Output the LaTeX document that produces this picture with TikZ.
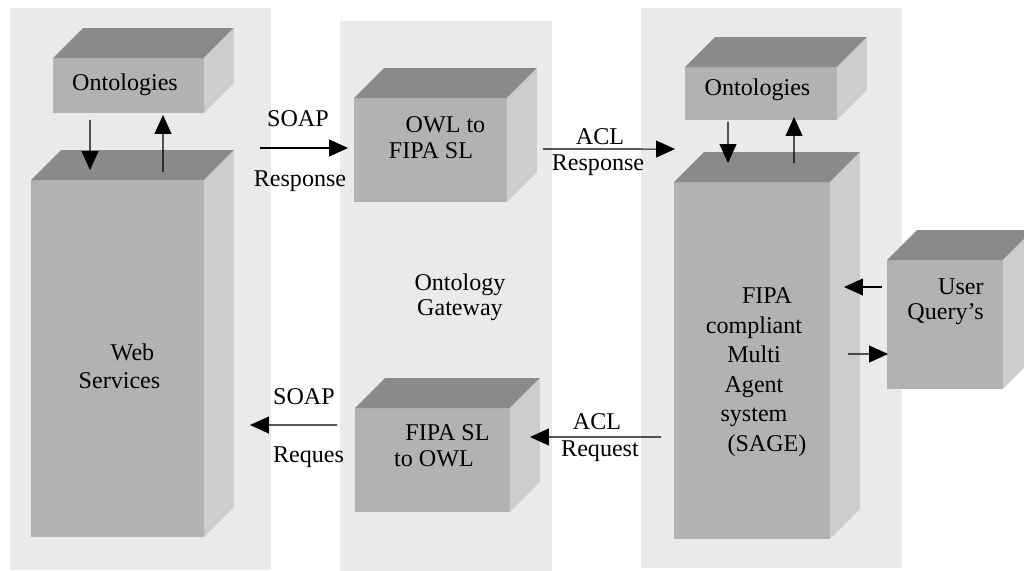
\documentclass[tikz,border=0pt]{standalone}
\usepackage{fontspec}
\setmainfont{Liberation Serif}
\usetikzlibrary{arrows.meta,calc}

\definecolor{panelgray}{RGB}{234,234,234}
\definecolor{frontgray}{RGB}{178,178,178}
\definecolor{topgray}{RGB}{138,138,138}
\definecolor{sidegray}{RGB}{205,205,205}

\begin{document}
\begin{tikzpicture}[x=0.02cm, y=-0.02cm,
	panel/.style={fill=panelgray},
	block/.style={rectangle, fill=frontgray, inner sep=0pt, outer sep=0pt},
	lbl/.style={font=\fontsize{13.7}{14.8}\selectfont, align=center, inner sep=0pt},
	arr/.style={-{Triangle[length=0.38cm, width=0.34cm]}, line width=0.6pt}]
	\useasboundingbox (0,0) rectangle (1024,571);
	\clip (0,0) rectangle (1024,571);

	% grey columns
	\fill[panel] (10,8) rectangle (271,570);
	\fill[panel] (340,21) rectangle (552,571);
	\fill[panel] (641,8) rectangle (902,568);

	% boxes (front faces)
	\node[block, minimum width=3.02cm, minimum height=1.10cm] (ontoL) at (128.5,85.5) {};
	\node[block, minimum width=3.46cm, minimum height=7.14cm] (web) at (117.5,358.5) {};
	\node[block, minimum width=3.06cm, minimum height=2.08cm] (owl2sl) at (430.5,150) {};
	\node[block, minimum width=3.10cm, minimum height=2.08cm] (sl2owl) at (432.5,460) {};
	\node[block, minimum width=3.04cm, minimum height=1.06cm] (ontoR) at (761,93.5) {};
	\node[block, minimum width=3.12cm, minimum height=7.14cm] (fipa) at (752,360.5) {};
	\node[block, minimum width=2.32cm, minimum height=2.58cm] (user) at (945,324.5) {};

	% top and side faces
	\foreach \b in {ontoL,web,owl2sl,sl2owl,ontoR,fipa,user} {
		\fill[topgray] (\b.north west) -- ++(30,-30) -- ($(\b.north east)+(30,-30)$) -- (\b.north east) -- cycle;
		\fill[sidegray] (\b.north east) -- ++(30,-30) -- ($(\b.south east)+(30,-30)$) -- (\b.south east) -- cycle;
	}

	% box texts
	\node[lbl] (ontoLtxt) at (125,85) {Ontologies};
	\node[lbl, font=\fontsize{13.7}{16}\selectfont] (webtxt) at (125.5,366) {\hspace*{0.28cm}Web\\\hspace*{-0.24cm}Services};
	\node[lbl] (owl2sltxt) at (438,138) {\hspace*{0.3cm}OWL to\\\hspace*{-0.28cm}FIPA SL};
	\node[lbl] (sl2owltxt) at (441,446) {\hspace*{0.26cm}FIPA SL\\\hspace*{-0.28cm}to OWL};
	\node[lbl, font=\fontsize{13.7}{14.2}\selectfont] (gatetxt) at (460,297) {Ontology\\Gateway};
	\node[lbl] (ontoRtxt) at (757.5,90) {Ontologies};
	\node[lbl, font=\fontsize{13.7}{16.8}\selectfont] (fipatxt) at (754,372)
		{\hspace*{0.52cm}FIPA\\compliant\\Multi\\Agent\\system\\\hspace*{0.52cm}(SAGE)};
	\node[lbl, font=\fontsize{13.7}{14.2}\selectfont, align=right, anchor=east] (usertxt) at (984,302) {User\\Query's};

	% arrow labels
	\node[lbl] (soap1) at (298,119) {SOAP};
	\node[lbl] (resp1) at (300,181) {Response};
	\node[lbl] (acl1) at (600,137) {ACL};
	\node[lbl] (resp2) at (598,165) {Response};
	\node[lbl] (soap2) at (304,397) {SOAP};
	\node[lbl] (req1) at (308.5,457) {Reques};
	\node[lbl] (acl2) at (597,422) {ACL};
	\node[lbl] (req2) at (600,451) {Request};

	% arrows
	\draw[arr] ($(ontoL.south west)+(37,7)$) -- ($(web.north west)+(59,-10)$);
	\draw[arr] ($(web.north west)+(132,-8)$) -- ($(ontoL.south west)+(110,2)$);
	\draw[arr] ($(owl2sl.west)+(-94,-2)$) -- ($(owl2sl.west)+(-6,-2)$);
	\draw[arr] ($(owl2sl.east)+(36,-1)$) -- ($(fipa.north west)+(1,-33)$);
	\draw[arr] ($(ontoR.south west)+(43,2)$) -- ($(fipa.north west)+(54,-19)$);
	\draw[arr] ($(fipa.north west)+(120,-19)$) -- ($(ontoR.south west)+(109,-3)$);
	\draw[arr] ($(user.west)+(-5,-37.5)$) -- ($(fipa.east)+(14,-73.5)$);
	\draw[arr] ($(fipa.east)+(18,-6.5)$) -- ($(user.west)+(1,29.5)$);
	\draw[arr] ($(sl2owl.west)+(-18,-35)$) -- ($(web.east)+(46,66.5)$);
	\draw[arr] ($(fipa.west)+(-13,76.5)$) -- ($(sl2owl.east)+(20,-23)$);
\end{tikzpicture}
\end{document}
